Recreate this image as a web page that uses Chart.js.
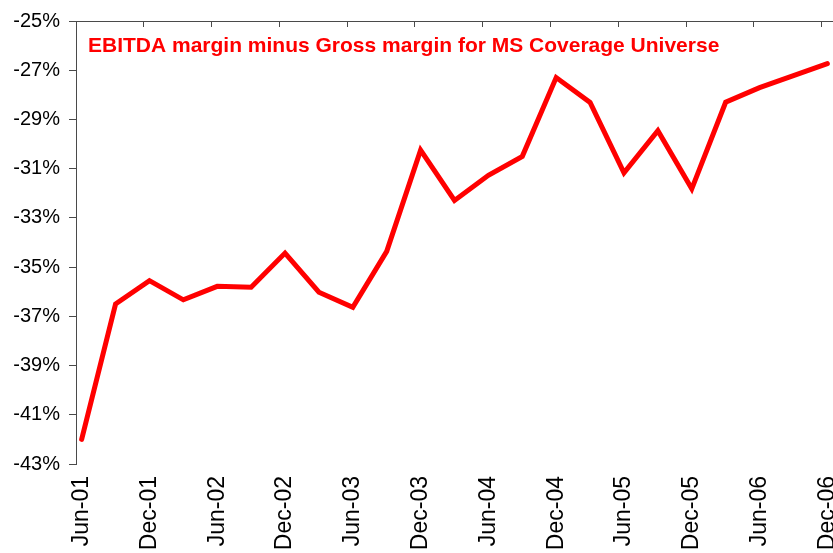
<!DOCTYPE html>
<html>
<head>
<meta charset="utf-8">
<title>EBITDA margin minus Gross margin</title>
<script src="https://cdn.jsdelivr.net/npm/chart.js@4.4.1/dist/chart.umd.min.js"></script>
<style>
  html, body { margin: 0; padding: 0; background: #fff; }
  canvas { display: block; }
</style>
</head>
<body>
<canvas id="marginChart" width="833" height="553"></canvas>
<script>
// quarterly readings, Jun-01 .. Dec-06
const quarters = [
  "Jun-01", "Sep-01", "Dec-01", "Mar-02", "Jun-02", "Sep-02", "Dec-02", "Mar-03",
  "Jun-03", "Sep-03", "Dec-03", "Mar-04", "Jun-04", "Sep-04", "Dec-04", "Mar-05",
  "Jun-05", "Sep-05", "Dec-05", "Mar-06", "Jun-06", "Sep-06", "Dec-06"
];
// EBITDA margin minus gross margin, %
const marginGap = [
  -42.0, -36.5, -35.55, -36.33, -35.78, -35.82, -34.43, -36.02,
  -36.63, -34.36, -30.25, -32.29, -31.27, -30.5, -27.3, -28.31,
  -31.17, -29.46, -31.82, -28.3, -27.71, -27.22, -26.73
];
// axis labels every half year
const tickLabels = ["Jun-01", "Dec-01", "Jun-02", "Dec-02", "Jun-03", "Dec-03",
  "Jun-04", "Dec-04", "Jun-05", "Dec-05", "Jun-06", "Dec-06"];
const yMin = -43, yMax = -25, yStep = 2;

const titleText = "EBITDA margin minus Gross margin for MS Coverage Universe";
const RED = "#ff0000";
const AXIS = "#4a4a4a";
const FONT = '"Liberation Sans", Arial, Helvetica, sans-serif';

Chart.defaults.font.family = FONT;
Chart.defaults.color = "#000";

// x runs in months from Jun-01 (0); each quarter is 3 months
const points = marginGap.map((v, i) => ({ x: i * 3, y: v }));
const lastMonth = (quarters.length - 1) * 3;

const innerTitle = {
  id: "innerTitle",
  afterDraw(chart) {
    const ctx = chart.ctx;
    ctx.save();
    ctx.font = "bold 21px " + FONT;
    ctx.fillStyle = RED;
    ctx.textAlign = "left";
    ctx.textBaseline = "alphabetic";
    ctx.fillText(titleText, 88, 52);
    ctx.restore();
  }
};

new Chart(document.getElementById("marginChart"), {
  type: "line",
  data: {
    datasets: [{
      label: titleText,
      data: points,
      borderColor: RED,
      backgroundColor: RED,
      borderWidth: 5,
      pointRadius: 0,
      tension: 0,
      borderCapStyle: "round",
      borderJoinStyle: "miter"
    }]
  },
  options: {
    responsive: false,
    animation: false,
    layout: { padding: 0 },
    plugins: {
      legend: { display: false },
      tooltip: { enabled: false },
      title: { display: false }
    },
    scales: {
      x: {
        type: "linear",
        position: "bottom",
        min: -0.5,
        max: lastMonth + 0.5,
        border: { display: false },
        grid: { display: false, drawTicks: false },
        afterBuildTicks(scale) {
          scale.ticks = tickLabels.map((_, i) => ({ value: i * 6 }));
        },
        ticks: {
          autoSkip: false,
          minRotation: 90,
          maxRotation: 90,
          padding: 12,
          font: { size: 23 },
          color: "#000",
          callback: (v) => quarters[Math.round(v / 3)]
        },
        afterFit(scale) {
          scale.height = 89;
          scale.paddingLeft = 0;
          scale.paddingRight = 0;
        }
      },
      xTop: {
        type: "linear",
        position: "top",
        min: -0.5,
        max: lastMonth + 0.5,
        border: { display: true, color: AXIS, width: 1 },
        grid: { drawOnChartArea: false, drawTicks: true, tickLength: -6, color: AXIS },
        afterBuildTicks(scale) {
          // half-year marks on the month boundaries
          const marks = [];
          for (let m = -0.5; m <= lastMonth; m += 6) marks.push({ value: m });
          scale.ticks = marks;
        },
        ticks: { display: false },
        afterFit(scale) {
          scale.height = 19;
          scale.paddingLeft = 0;
          scale.paddingRight = 0;
        }
      },
      y: {
        min: yMin,
        max: yMax,
        border: { display: true, color: AXIS, width: 1 },
        grid: { drawOnChartArea: false, drawTicks: true, tickLength: 7, color: AXIS },
        ticks: {
          stepSize: yStep,
          padding: 9,
          font: { size: 20 },
          color: "#000",
          callback: (v) => v + "%"
        },
        afterFit(scale) {
          scale.width = 76;
        }
      }
    }
  },
  plugins: [innerTitle]
});
</script>
</body>
</html>
